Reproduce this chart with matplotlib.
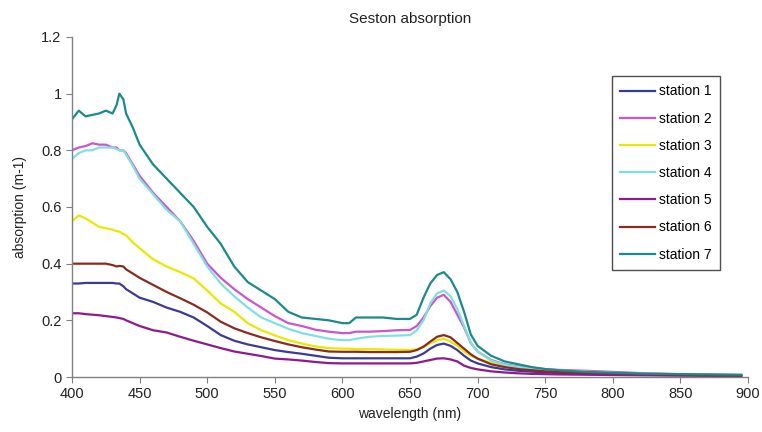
import matplotlib
matplotlib.use("Agg")
import matplotlib.pyplot as plt

plt.rcParams['font.family'] = ['Liberation Sans', 'DejaVu Sans']

wavelength = [400, 405, 410, 415, 420, 425, 430, 433, 435, 438, 440, 445, 450, 460, 470, 480, 490,
              500, 510, 520, 530, 540, 550, 560, 570, 580, 590, 600, 605, 610, 620, 630, 640, 650,
              655, 660, 665, 670, 675, 680, 685, 690, 695, 700, 710, 720, 730, 740, 750, 760, 780,
              800, 820, 850, 875, 895]

station1 = [0.33, 0.33, 0.332, 0.332, 0.332, 0.332, 0.332, 0.33, 0.33, 0.32, 0.31, 0.295, 0.28, 0.265, 0.245, 0.23, 0.21,
            0.18, 0.148, 0.128, 0.115, 0.105, 0.095, 0.088, 0.082, 0.075, 0.068, 0.066, 0.066, 0.066, 0.066, 0.066, 0.066, 0.066,
            0.072, 0.083, 0.10, 0.113, 0.118, 0.11, 0.095, 0.075, 0.058, 0.048, 0.035, 0.027, 0.022, 0.019, 0.016, 0.014, 0.012,
            0.01, 0.008, 0.006, 0.005, 0.004]
station2 = [0.80, 0.81, 0.815, 0.825, 0.82, 0.82, 0.81, 0.81, 0.80, 0.80, 0.79, 0.75, 0.71, 0.65, 0.60, 0.55, 0.48,
            0.40, 0.35, 0.31, 0.275, 0.245, 0.215, 0.19, 0.18, 0.167, 0.16, 0.155, 0.155, 0.16, 0.16, 0.162, 0.165, 0.166,
            0.18, 0.21, 0.25, 0.28, 0.29, 0.265, 0.22, 0.175, 0.12, 0.09, 0.06, 0.045, 0.037, 0.032, 0.028, 0.025, 0.022,
            0.018, 0.014, 0.01, 0.008, 0.007]
station3 = [0.55, 0.57, 0.56, 0.545, 0.53, 0.525, 0.52, 0.515, 0.513, 0.505, 0.50, 0.475, 0.455, 0.415, 0.39, 0.37, 0.348,
            0.305, 0.26, 0.23, 0.19, 0.165, 0.147, 0.13, 0.118, 0.108, 0.102, 0.10, 0.10, 0.098, 0.098, 0.097, 0.096, 0.095,
            0.098, 0.105, 0.12, 0.13, 0.135, 0.125, 0.11, 0.09, 0.075, 0.065, 0.05, 0.04, 0.033, 0.028, 0.025, 0.022, 0.018,
            0.014, 0.012, 0.009, 0.007, 0.006]
station4 = [0.77, 0.79, 0.80, 0.80, 0.81, 0.81, 0.81, 0.805, 0.80, 0.80, 0.785, 0.745, 0.70, 0.645, 0.59, 0.55, 0.47,
            0.39, 0.33, 0.285, 0.245, 0.21, 0.19, 0.17, 0.155, 0.145, 0.135, 0.13, 0.13, 0.135, 0.142, 0.145, 0.146, 0.148,
            0.165, 0.20, 0.26, 0.295, 0.305, 0.285, 0.24, 0.18, 0.12, 0.09, 0.058, 0.043, 0.035, 0.03, 0.026, 0.023, 0.019,
            0.015, 0.012, 0.009, 0.007, 0.006]
station5 = [0.225, 0.225, 0.222, 0.22, 0.218, 0.215, 0.212, 0.21, 0.208, 0.205, 0.20, 0.19, 0.18, 0.165, 0.157, 0.142, 0.128,
            0.115, 0.102, 0.09, 0.082, 0.074, 0.065, 0.062, 0.058, 0.053, 0.049, 0.048, 0.048, 0.048, 0.048, 0.048, 0.048, 0.048,
            0.05, 0.055, 0.06, 0.065, 0.066, 0.062, 0.055, 0.04, 0.032, 0.027, 0.02, 0.016, 0.013, 0.011, 0.01, 0.009, 0.008,
            0.007, 0.006, 0.005, 0.004, 0.004]
station6 = [0.40, 0.40, 0.40, 0.40, 0.40, 0.40, 0.395, 0.39, 0.392, 0.39, 0.38, 0.365, 0.35, 0.325, 0.30, 0.278, 0.255,
            0.228, 0.195, 0.172, 0.155, 0.14, 0.127, 0.115, 0.105, 0.097, 0.09, 0.089, 0.089, 0.089, 0.088, 0.088, 0.088, 0.089,
            0.095, 0.107, 0.125, 0.142, 0.148, 0.14, 0.12, 0.10, 0.08, 0.065, 0.045, 0.035, 0.028, 0.024, 0.02, 0.018, 0.015,
            0.013, 0.011, 0.008, 0.006, 0.005]
station7 = [0.91, 0.94, 0.92, 0.925, 0.93, 0.94, 0.93, 0.96, 1.0, 0.98, 0.93, 0.88, 0.82, 0.75, 0.70, 0.65, 0.60,
            0.53, 0.47, 0.39, 0.335, 0.305, 0.275, 0.23, 0.21, 0.205, 0.20, 0.19, 0.19, 0.21, 0.21, 0.21, 0.205, 0.205,
            0.22, 0.28, 0.33, 0.36, 0.37, 0.345, 0.30, 0.23, 0.15, 0.11, 0.075, 0.055, 0.045, 0.035, 0.028, 0.024, 0.018,
            0.015, 0.012, 0.01, 0.009, 0.008]

labels = ['station 1', 'station 2', 'station 3', 'station 4', 'station 5', 'station 6', 'station 7']
series = [station1, station2, station3, station4, station5, station6, station7]
colors = ['#3a3a9a', '#cc55cc', '#e8e800', '#80e0e0', '#8e1a8e', '#8b2a1e', '#1a8a8a']

x_ticks = [400, 450, 500, 550, 600, 650, 700, 750, 800, 850, 900]
y_ticks = [0, 0.2, 0.4, 0.6, 0.8, 1.0, 1.2]
y_tick_labels = ['0', '0.2', '0.4', '0.6', '0.8', '1', '1.2']

fig = plt.figure(figsize=(7.62, 4.32), dpi=100)
ax = fig.add_axes([0.0945, 0.1273, 0.8871, 0.7871])

for vals, lab, col in zip(series, labels, colors):
    ax.plot(wavelength, vals, color=col, lw=1.6, label=lab)

ax.set_xlim(400, 900)
ax.set_ylim(0, 1.2)
ax.set_xticks(x_ticks)
ax.set_yticks(y_ticks)
ax.set_yticklabels(y_tick_labels)

for s in ['top', 'right']:
    ax.spines[s].set_visible(False)
for s in ['left', 'bottom']:
    ax.spines[s].set_color('#808080')
    ax.spines[s].set_linewidth(1.0)
ax.tick_params(axis='both', direction='out', length=4, color='#808080', labelsize=10.5, labelcolor='#222222')

ax.set_title('Seston absorption', fontsize=11, pad=10, color='#222222')
ax.set_xlabel('wavelength (nm)', fontsize=10, color='#222222', labelpad=4)
ax.set_ylabel('absorption (m-1)', fontsize=10, color='#222222', labelpad=10)

leg = ax.legend(loc='upper left', bbox_to_anchor=(0.799, 0.885), borderaxespad=0,
                fontsize=10, frameon=True, fancybox=False, handlelength=2.5,
                labelspacing=0.95, handletextpad=0.25, borderpad=0.6)
leg.get_frame().set_edgecolor('#222222')
leg.get_frame().set_linewidth(1.0)

fig.savefig('out.png', dpi=100)
